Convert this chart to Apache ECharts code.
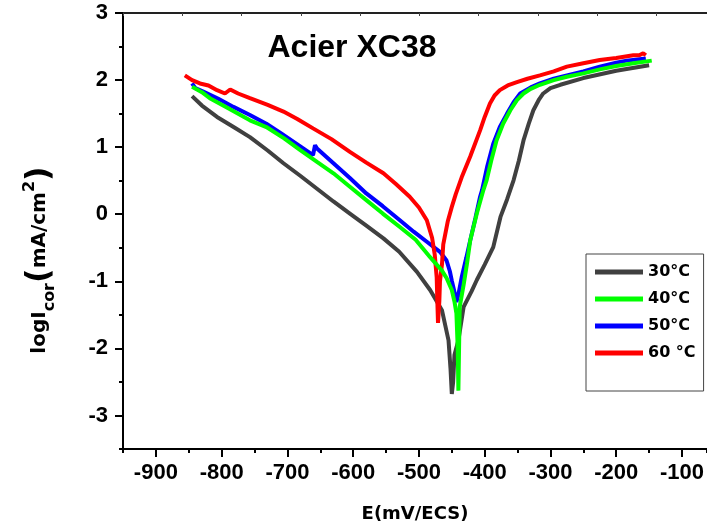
<!DOCTYPE html>
<html>
<head>
<meta charset="utf-8">
<script src="https://cdn.jsdelivr.net/npm/echarts@6/dist/echarts.min.js"></script>
<style>html,body{margin:0;padding:0;background:#fff}#c{width:707px;height:529px}</style>
</head>
<body>
<div id="c"></div>
<script>
// ---- data ----
const seriesNames = ['30°C', '40°C', '50°C', '60 °C'];
const xMajorTicks = [-900, -800, -700, -600, -500, -400, -300, -200, -100];
const yMajorTicks = [-3, -2, -1, 0, 1, 2, 3];

const E30 = [-845,-830,-807,-780,-757,-730,-706,-680,-655,-630,-605,-580,-554,-530,-503,-483,-465,-455,-452,-450,-448,-446,-440,-432,-420,-412,-400,-387,-376,-366,-356,-348,-341,-333,-326,-318,-311,-300,-285,-250,-200,-150];
const I30 = [1.76,1.62,1.45,1.29,1.15,0.95,0.76,0.57,0.38,0.19,0.01,-0.17,-0.36,-0.56,-0.86,-1.13,-1.43,-1.88,-2.3,-2.68,-2.5,-2.1,-1.88,-1.38,-1.15,-0.98,-0.75,-0.49,-0.04,0.22,0.51,0.8,1.10,1.35,1.55,1.70,1.80,1.88,1.93,2.03,2.14,2.22];

const E40 = [-845,-830,-818,-790,-757,-732,-705,-681,-655,-630,-605,-580,-555,-529,-505,-483,-465,-458,-450,-446,-443,-441,-440,-439,-438,-432,-427,-422,-412,-402,-397,-390,-382,-372,-361,-351,-341,-330,-316,-295,-275,-250,-225,-200,-174,-146];
const I40 = [1.90,1.82,1.73,1.58,1.40,1.30,1.13,0.96,0.78,0.61,0.41,0.21,0.01,-0.19,-0.38,-0.64,-0.84,-0.95,-1.13,-1.30,-1.48,-2.0,-2.63,-2.0,-1.38,-1.05,-0.74,-0.39,0.01,0.36,0.51,0.80,1.10,1.35,1.55,1.70,1.80,1.87,1.93,2.00,2.05,2.10,2.16,2.21,2.25,2.29];

const E50 = [-845,-840,-828,-805,-782,-757,-732,-710,-686,-661,-658,-655,-630,-605,-580,-555,-529,-508,-488,-468,-458,-453,-450,-445,-443,-440,-435,-428,-422,-414,-407,-404,-396,-387,-377,-366,-356,-346,-330,-316,-295,-275,-250,-225,-200,-184,-155];
const I50 = [1.95,1.88,1.83,1.72,1.60,1.48,1.35,1.21,1.05,0.88,1.03,0.98,0.76,0.54,0.31,0.12,-0.09,-0.26,-0.41,-0.56,-0.69,-0.85,-0.99,-1.20,-1.31,-1.20,-0.94,-0.65,-0.39,-0.05,0.26,0.36,0.72,1.05,1.30,1.50,1.67,1.80,1.89,1.95,2.02,2.07,2.13,2.20,2.26,2.29,2.32];

const E60 = [-856,-845,-833,-820,-807,-795,-787,-775,-757,-730,-706,-685,-661,-633,-605,-580,-554,-535,-514,-500,-488,-480,-476,-473,-472,-471,-469,-468,-465,-463,-456,-450,-444,-435,-422,-407,-400,-392,-385,-377,-365,-351,-335,-316,-295,-275,-250,-225,-200,-174,-165,-159,-155];
const I60 = [2.07,2.00,1.95,1.92,1.85,1.80,1.86,1.80,1.73,1.63,1.53,1.42,1.28,1.12,0.93,0.77,0.61,0.45,0.26,0.10,-0.09,-0.35,-0.60,-0.94,-1.30,-1.62,-1.30,-1.00,-0.75,-0.45,-0.10,0.11,0.30,0.55,0.86,1.25,1.45,1.65,1.77,1.85,1.92,1.97,2.02,2.07,2.13,2.20,2.25,2.30,2.33,2.37,2.37,2.40,2.37];

const colors = ['#404040', '#00ff00', '#0000ff', '#ff0000'];
const allE = [E30, E40, E50, E60];
const allI = [I30, I40, I50, I60];

function pairs(xs, ys) { return xs.map((x, i) => [x, ys[i]]); }

const chart = echarts.init(document.getElementById('c'), null, {renderer: 'canvas'});
const tickFont = {fontFamily: '"Liberation Sans", Arial, sans-serif', fontWeight: 'bold', fontSize: 22, color: '#000'};
const nameFont = '"DejaVu Sans", Verdana, sans-serif';

const option = {
  animation: false,
  backgroundColor: '#fff',
  grid: {left: 123, top: 13, right: 0, bottom: 80, containLabel: false},
  xAxis: [
    {
      type: 'value', position: 'bottom', min: -950, max: -62, interval: 50,
      axisLine: {show: true, onZero: false, lineStyle: {color: '#000', width: 2}},
      axisTick: {show: true, customValues: xMajorTicks, length: 8, lineStyle: {color: '#000', width: 2}},
      axisLabel: Object.assign({show: true, customValues: xMajorTicks, margin: 13}, tickFont),
      splitLine: {show: false},
      name: 'E(mV/ECS)', nameLocation: 'middle', nameGap: 56,
      nameTextStyle: {fontFamily: nameFont, fontWeight: 'bold', fontSize: 18, color: '#000'}
    },
    {
      type: 'value', position: 'bottom', min: -950, max: -62, interval: 50,
      axisLine: {show: false, onZero: false},
      axisTick: {show: true, length: 4, lineStyle: {color: '#000', width: 2}},
      axisLabel: {show: false}, splitLine: {show: false}
    },
    {
      type: 'value', position: 'top', min: 0, max: 9.85, interval: 1,
      axisLine: {show: true, onZero: false, lineStyle: {color: '#222', width: 2}},
      axisTick: {show: true, inside: true, length: 3, lineStyle: {color: '#444', width: 1}},
      axisLabel: {show: false}, splitLine: {show: false}
    }
  ],
  yAxis: [
    {
      type: 'value', position: 'left', min: -3.5, max: 3, interval: 0.5,
      axisLine: {show: true, onZero: false, lineStyle: {color: '#000', width: 2}},
      axisTick: {show: true, customValues: yMajorTicks, length: 8, lineStyle: {color: '#000', width: 2}},
      axisLabel: Object.assign({show: true, customValues: yMajorTicks, margin: 15}, tickFont),
      splitLine: {show: false}
    },
    {
      type: 'value', position: 'left', min: -3.5, max: 3, interval: 0.5,
      axisLine: {show: false, onZero: false},
      axisTick: {show: true, length: 4, lineStyle: {color: '#000', width: 2}},
      axisLabel: {show: false}, splitLine: {show: false}
    }
  ],
  legend: {
    orient: 'vertical', left: 586, top: 254,
    backgroundColor: '#fff', borderColor: '#444', borderWidth: 1,
    padding: [10, 8, 30, 9], itemGap: 11, itemWidth: 48, itemHeight: 5,
    icon: 'rect',
    textStyle: {fontFamily: nameFont, fontWeight: 'bold', fontSize: 16, color: '#000'},
    data: seriesNames
  },
  graphic: [
    {
      type: 'text', x: 352, y: 48,
      style: {text: 'Acier XC38', font: 'bold 32px "Liberation Sans", Arial, sans-serif', fill: '#000', align: 'center', verticalAlign: 'middle'}
    },
    {
      type: 'text', x: 40, y: 260, rotation: Math.PI / 2,
      style: {
        text: '{a|logI}{b|cor}{p|(}{a|mA/cm}{s|2}{p|)}',
        align: 'center', verticalAlign: 'middle', fill: '#000',
        rich: {
          a: {fontFamily: nameFont, fontWeight: 'bold', fontSize: 20, verticalAlign: 'middle', lineHeight: 36},
          b: {fontFamily: nameFont, fontWeight: 'bold', fontSize: 16, verticalAlign: 'bottom', lineHeight: 36},
          p: {fontFamily: nameFont, fontWeight: 'bold', fontSize: 32, verticalAlign: 'middle', lineHeight: 36},
          s: {fontFamily: nameFont, fontWeight: 'bold', fontSize: 16, verticalAlign: 'top', lineHeight: 36}
        }
      }
    }
  ],
  series: seriesNames.map((n, k) => ({
    name: n, type: 'line', xAxisIndex: 0, yAxisIndex: 0,
    data: pairs(allE[k], allI[k]),
    showSymbol: false, symbol: 'none', smooth: false,
    itemStyle: {color: colors[k]},
    lineStyle: {color: colors[k], width: 4},
    z: 2 + (k === 1 ? 1 : 0)
  }))
};
chart.setOption(option);
</script>
</body>
</html>
